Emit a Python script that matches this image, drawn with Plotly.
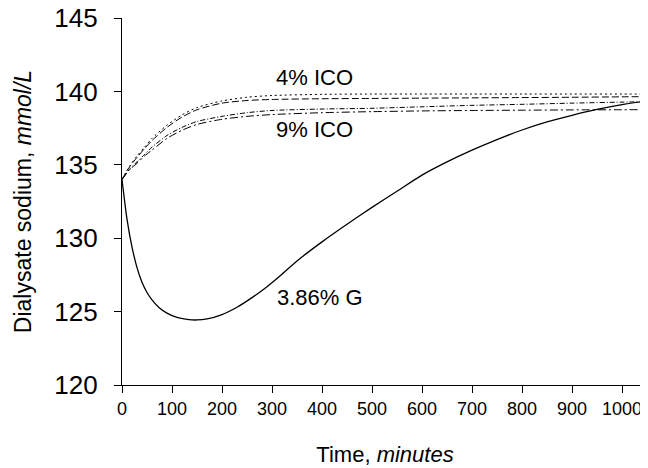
import plotly.graph_objects as go

# Time points (minutes) for the icodextrin curves
t_ico = [0, 15, 30, 45, 60, 90, 120, 150, 200, 250, 300, 400, 500, 600, 700, 800, 900, 1000, 1060]
ico4_a = [134, 134.9, 135.6, 136.2, 136.8, 137.7, 138.4, 138.9, 139.35, 139.6, 139.72, 139.8, 139.82, 139.82, 139.82, 139.82, 139.82, 139.82, 139.82]
ico4_b = [134, 134.85, 135.5, 136.1, 136.65, 137.55, 138.25, 138.75, 139.2, 139.38, 139.45, 139.5, 139.52, 139.54, 139.56, 139.58, 139.6, 139.63, 139.65]
ico9_a = [134, 134.7, 135.2, 135.7, 136.2, 137.0, 137.55, 137.95, 138.3, 138.55, 138.7, 138.8, 138.85, 138.95, 139.05, 139.12, 139.2, 139.27, 139.3]
ico9_b = [134, 134.65, 135.1, 135.6, 136.0, 136.8, 137.35, 137.75, 138.1, 138.3, 138.42, 138.55, 138.62, 138.67, 138.7, 138.72, 138.74, 138.75, 138.76]

# 3.86% glucose curve
t_g = [0, 10, 20, 30, 40, 50, 60, 75, 90, 110, 130, 150, 170, 200, 230, 260, 290, 320, 350, 400, 450,
       500, 550, 600, 650, 700, 750, 800, 850, 900, 950, 1000, 1060]
g386 = [134, 131.3, 129.4, 128.0, 127.0, 126.3, 125.8, 125.25, 124.9, 124.6, 124.47, 124.43, 124.5, 124.8,
        125.3, 125.95, 126.7, 127.55, 128.45, 129.75, 130.95, 132.1, 133.2, 134.3, 135.2, 136.0, 136.72,
        137.37, 137.92, 138.37, 138.77, 139.1, 139.4]

x_ticks = [0, 100, 200, 300, 400, 500, 600, 700, 800, 900, 1000]
y_ticks = [120, 125, 130, 135, 140, 145]

FONT = "Liberation Sans, Arial, Helvetica, sans-serif"

fig = go.Figure()

def add(x, y, dash, width=1.0):
    fig.add_trace(go.Scatter(x=x, y=y, mode="lines",
                             line=dict(color="black", width=width, dash=dash, shape="spline", smoothing=0.7),
                             showlegend=False, hoverinfo="skip"))

add(t_ico, ico4_a, "2px,3px")
add(t_ico, ico4_b, "7px,3px")
add(t_ico, ico9_a, "5px,2px,1px,2px")
add(t_ico, ico9_b, "8px,3px,2px,3px")
add(t_g, g386, "solid", 1.3)

fig.add_annotation(x=385, y=140.93, text="4% ICO", showarrow=False, font=dict(size=22, family=FONT, color="black"))
fig.add_annotation(x=385, y=137.38, text="9% ICO", showarrow=False, font=dict(size=22, family=FONT, color="black"))
fig.add_annotation(x=395, y=125.93, text="3.86% G", showarrow=False, font=dict(size=22, family=FONT, color="black"))

# The page body has an 8px margin, so the figure is drawn smaller and offset
fig.update_layout(
    width=640, height=460,
    margin=dict(l=114, r=0, t=10, b=83),
    paper_bgcolor="white", plot_bgcolor="white",
    font=dict(family=FONT, color="black"),
)
fig.update_xaxes(
    range=[0, 1052], tickvals=x_ticks, ticktext=[str(v) for v in x_ticks],
    showline=True, linecolor="black", linewidth=1.3, automargin=False,
    ticks="outside", ticklen=7, tickwidth=1.3, tickcolor="black",
    showgrid=False, zeroline=False, ticklabeloverflow="allow",
    tickfont=dict(size=18, family=FONT),
    title=dict(text="Time, <i>minutes</i>", font=dict(size=22, family=FONT), standoff=28),
)
fig.update_yaxes(
    range=[120, 145], tickvals=y_ticks,
    showline=True, linecolor="black", linewidth=1.3, automargin=False,
    ticks="outside", ticklen=7, tickwidth=1.3, tickcolor="black",
    showgrid=False, zeroline=False, ticklabeloverflow="allow",
    tickfont=dict(size=26, family=FONT), ticklabelstandoff=11,
    title=dict(text="Dialysate sodium, <i>mmol/L</i>", font=dict(size=23, family=FONT), standoff=16),
)

fig.write_html("out.html")
